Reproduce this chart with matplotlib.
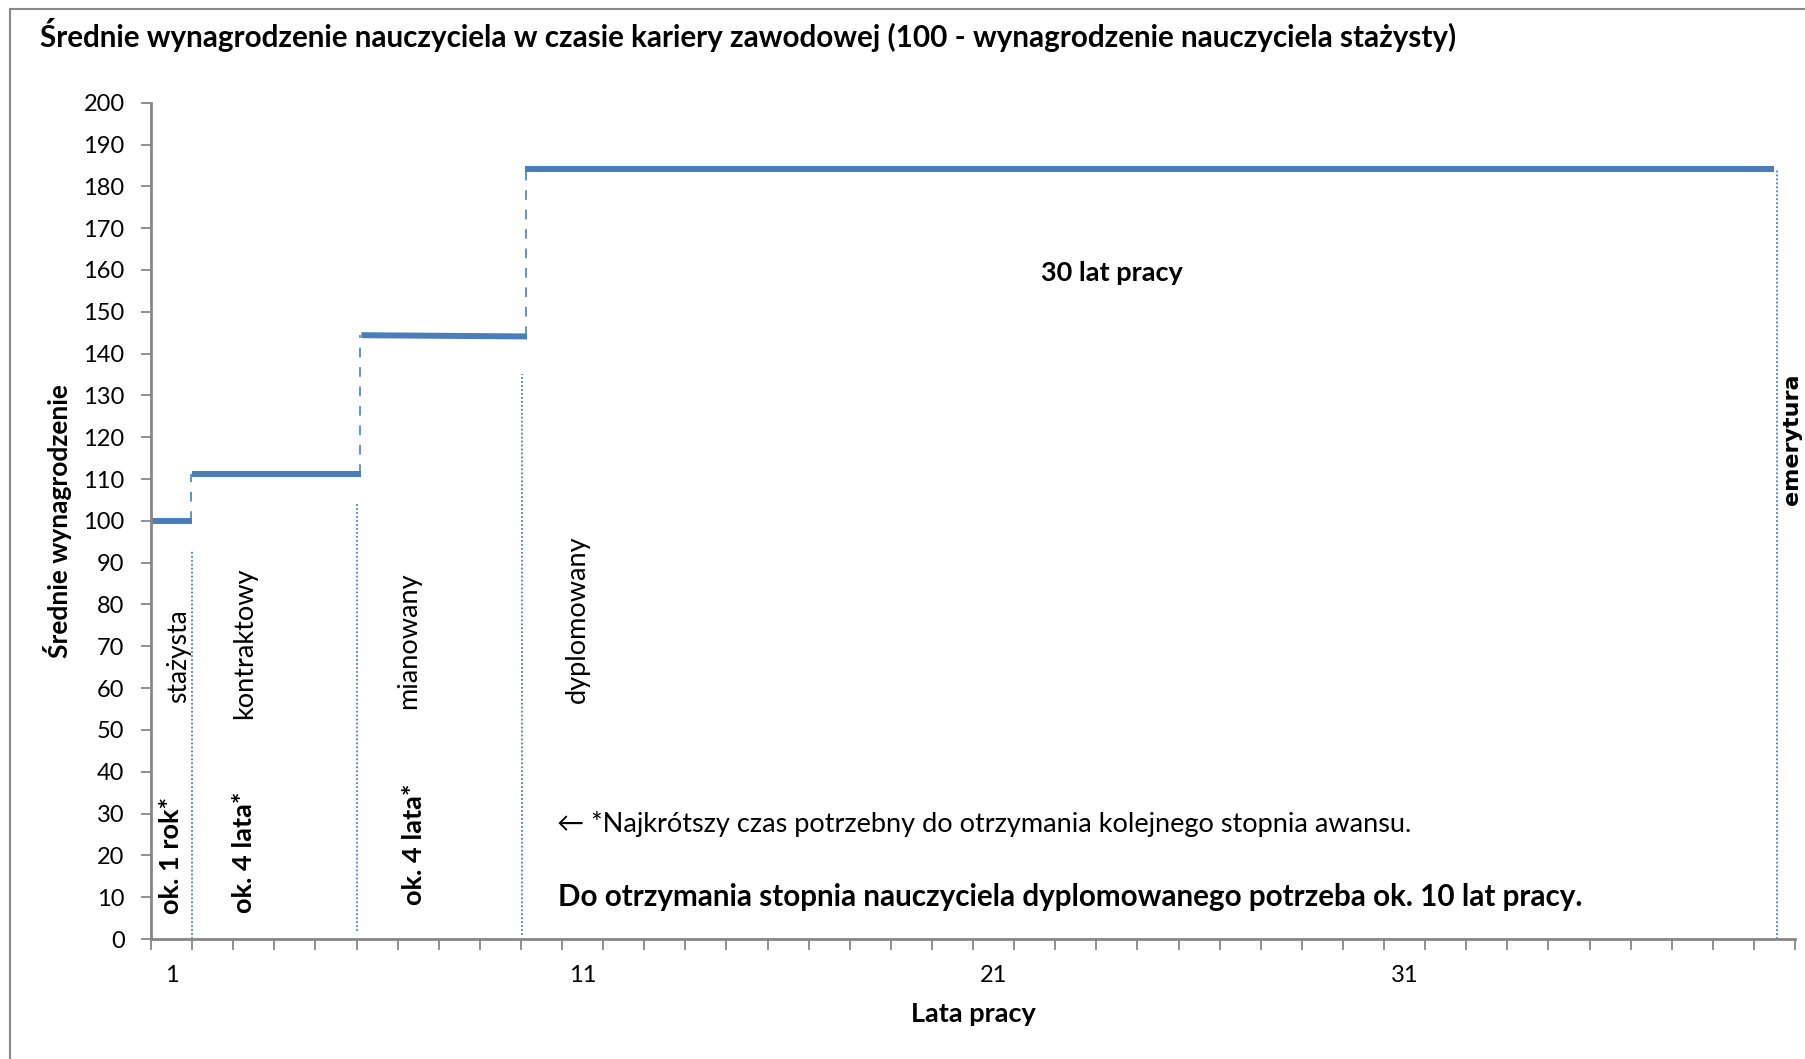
import matplotlib
matplotlib.use('Agg')
import matplotlib.pyplot as plt
from matplotlib.patches import Rectangle

# dane - kolejne stopnie awansu
stopien_start = [0.5, 1.5, 5.62, 9.6]
stopien_koniec = [1.5, 5.62, 9.65, 40.0]
wyn_start = [100, 111.2, 144.4, 184.1]
wyn_koniec = [100, 111.2, 144.1, 184.1]

# kropkowane granice stopni (x, od, do)
granica_x = [1.5, 5.5, 9.52, 40.05]
granica_dol = [0, 2, 1, 0]
granica_gora = [93, 104, 135, 184]

lata = list(range(1, 41))
etykiety_x = ['1', '11', '21', '31']
pozycje_x = [1, 11, 21, 31]

BLUE = '#4A7EBB'
GRAY = '#868686'
FONT = ['Lato', 'DejaVu Sans']
plt.rcParams['font.family'] = FONT

fig = plt.figure(figsize=(18.05, 10.59), dpi=100)
ax = fig.add_axes([151/1805, 120/1059, 1644/1805, 836.3/1059])

# poziome odcinki
for i in range(len(stopien_start)):
    ax.plot([stopien_start[i], stopien_koniec[i]], [wyn_start[i], wyn_koniec[i]],
            color=BLUE, lw=4.3, solid_capstyle='butt')
# przerywane polaczenia miedzy stopniami
for i in range(len(stopien_start)-1):
    ax.plot([stopien_koniec[i]-0.03, stopien_koniec[i]-0.03], [wyn_koniec[i], wyn_start[i+1]],
            color=BLUE, lw=1.4, ls=(0, (5, 5)), alpha=0.85)
# kropkowane granice
for i in range(len(granica_x)):
    ax.plot([granica_x[i], granica_x[i]], [granica_dol[i], granica_gora[i]],
            color=BLUE, lw=1.3, ls=(0, (1, 1.2)), clip_on=False)

ax.set_xlim(0.5, 40.5)
ax.set_ylim(0, 200)
ax.set_yticks(range(0, 201, 10))
ax.set_xticks(pozycje_x)
ax.set_xticklabels(etykiety_x)
ax.set_xticks([x + 0.5 for x in range(0, 41)], minor=True)
ax.tick_params(axis='x', which='major', length=0, pad=19, labelsize=17)
ax.tick_params(axis='x', which='minor', length=8, width=1.3, color=GRAY, direction='out')
ax.tick_params(axis='y', length=7, width=1.3, color=GRAY, pad=12, labelsize=17)
for s in ['top', 'right']:
    ax.spines[s].set_visible(False)
for s in ['left', 'bottom']:
    ax.spines[s].set_color(GRAY)
    ax.spines[s].set_linewidth(2)

ax.set_ylabel('Średnie wynagrodzenie', fontsize=19, fontweight='bold')
ax.set_xlabel('Lata pracy', fontsize=19.5, fontweight='bold')
ax.yaxis.set_label_coords(-0.048, 0.5)
ax.xaxis.set_label_coords(0.5, -0.075)

fig.text(40/1805, 1-35/1059, 'Średnie wynagrodzenie nauczyciela w czasie kariery zawodowej (100 - wynagrodzenie nauczyciela stażysty)',
         fontsize=21.3, fontweight='bold', ha='left', va='center')

# opisy stopni
ax.text(1.16, 67.7, 'stażysta', rotation=90, ha='center', va='center', fontsize=19)
ax.text(2.79, 70.8, 'kontraktowy', rotation=90, ha='center', va='center', fontsize=19.5)
ax.text(6.78, 71.3, 'mianowany', rotation=90, ha='center', va='center', fontsize=19.5)
ax.text(10.87, 76.5, 'dyplomowany', rotation=90, ha='center', va='center', fontsize=19.5)
ax.text(0.99, 19.9, 'ok. 1 rok*', rotation=90, ha='center', va='center', fontsize=19.5, fontweight='bold')
ax.text(2.76, 20.8, 'ok. 4 lata*', rotation=90, ha='center', va='center', fontsize=19.5, fontweight='bold')
ax.text(6.9, 22.7, 'ok. 4 lata*', rotation=90, ha='center', va='center', fontsize=19.5, fontweight='bold')
ax.text(40.43, 119.6, 'emerytura', rotation=90, ha='center', va='center', fontsize=16,
        fontweight='bold', family='DejaVu Sans', clip_on=False)
ax.text(23.88, 159.3, '30 lat pracy', ha='center', va='center', fontsize=19.5, fontweight='bold')
ax.text(10.38, 27.5, '← *Najkrótszy czas potrzebny do otrzymania kolejnego stopnia awansu.',
        ha='left', va='center', fontsize=19.5)
ax.text(10.4, 10, 'Do otrzymania stopnia nauczyciela dyplomowanego potrzeba ok. 10 lat pracy.',
        ha='left', va='center', fontsize=21.3, fontweight='bold')

# ramka wykresu
fig.patches.append(Rectangle((10/1805, -0.05), 1.2, 1.05 - 9/1059, transform=fig.transFigure,
                             fill=False, edgecolor='#898989', lw=1.5))

fig.savefig('out.png', dpi=100)
